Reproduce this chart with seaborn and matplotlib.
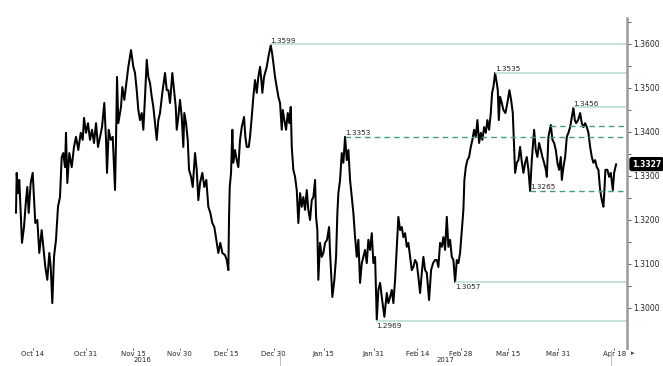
import matplotlib
matplotlib.use('Agg')
import matplotlib.pyplot as plt
import matplotlib.dates as mdates
import matplotlib.transforms as mtransforms
import seaborn as sns
import numpy as np
import pandas as pd

# time is kept as days after 14 Oct 2016
start = pd.Timestamp('2016-10-14')

day = [
    -5.44, -5.22, -4.80, -4.39, -3.94, -3.52, -2.88, -2.24, -1.82, -1.38,
    -0.74, -0.10, 0.32, 0.74, 1.38, 2.02, 2.78, 3.30, 3.94, 4.58,
    5.22, 5.67, 6.18, 6.72, 7.36, 8.00, 8.64, 9.19, 9.70, 10.24,
    10.56, 10.98, 11.62, 12.39, 13.12, 13.76, 14.50, 15.27, 15.91, 16.33,
    16.97, 17.61, 18.25, 18.89, 19.53, 20.17, 20.81, 21.45, 22.09, 22.82,
    23.37, 23.69, 24.23, 24.87, 25.51, 26.25, 26.57, 26.89, 27.30, 28.17,
    28.59, 29.23, 29.99, 30.51, 31.37, 32.11, 32.65, 33.19, 33.71, 34.25,
    34.80, 35.31, 35.85, 36.40, 36.91, 37.45, 38.00, 38.51, 39.05, 39.60,
    40.11, 40.65, 41.39, 42.25, 42.80, 43.31, 43.85, 44.59, 45.23, 45.68,
    46.00, 46.51, 47.05, 47.60, 48.11, 48.43, 48.98, 49.52, 49.94, 50.58,
    51.12, 51.86, 52.40, 52.91, 53.46, 54.19, 54.83, 55.47, 56.11, 56.75,
    57.39, 58.03, 58.67, 59.31, 59.95, 60.60, 61.46, 62.00, 62.52, 62.74,
    62.96, 63.38, 63.80, 64.12, 64.66, 65.20, 65.72, 66.26, 66.81, 67.54,
    67.96, 68.41, 69.05, 69.46, 70.01, 70.52, 71.06, 71.61, 72.12, 72.66,
    73.08, 73.40, 73.94, 74.81, 75.32, 76.09, 76.50, 76.92, 77.46, 78.01,
    78.52, 79.06, 79.61, 79.93, 80.44, 80.99, 81.53, 82.04, 82.49, 82.81,
    83.32, 83.87, 84.41, 84.92, 85.47, 86.01, 86.52, 87.07, 87.61, 88.12,
    88.67, 89.21, 89.72, 90.27, 90.59, 91.00, 91.32, 91.87, 92.41, 92.93,
    93.47, 94.11, 94.75, 95.07, 95.81, 96.45, 96.99, 97.41, 97.73, 98.27,
    98.82, 99.33, 99.87, 100.42, 100.93, 101.47, 102.02, 102.53, 103.07, 103.62,
    104.13, 104.67, 105.22, 105.73, 106.27, 106.82, 107.33, 107.87, 108.42, 108.93,
    109.48, 110.02, 110.53, 111.08, 111.62, 112.45, 113.22, 113.73, 114.28, 114.82,
    115.33, 115.88, 116.42, 116.93, 117.48, 118.02, 118.53, 119.08, 119.62, 120.13,
    120.68, 121.22, 121.73, 122.28, 122.82, 123.34, 123.88, 124.42, 124.94, 125.48,
    126.02, 126.76, 127.40, 128.04, 128.68, 129.23, 129.74, 130.28, 130.83, 131.34,
    131.88, 132.43, 132.94, 133.48, 134.03, 134.54, 135.08, 135.63, 136.14, 136.68,
    137.23, 137.74, 138.06, 138.51, 139.02, 139.56, 140.11, 140.62, 141.17, 141.71,
    142.22, 142.77, 143.31, 143.82, 144.37, 144.91, 145.42, 145.97, 146.51, 146.93,
    147.34, 147.89, 148.43, 148.75, 149.07, 149.49, 150.03, 150.54, 151.18, 151.82,
    152.47, 153.01, 153.55, 153.87, 154.29, 154.83, 155.35, 155.89, 156.43, 156.95,
    157.49, 158.03, 158.55, 159.09, 159.63, 160.37, 160.91, 161.43, 161.97, 162.52,
    163.03, 163.57, 164.12, 164.44, 164.95, 165.72, 166.23, 166.77, 167.32, 167.83,
    168.37, 168.92, 169.24, 169.75, 170.30, 170.84, 171.35, 171.90, 172.44, 172.95,
    173.40, 173.82, 174.46, 175.10, 175.64, 176.15, 176.70, 177.24, 177.75, 178.30,
    178.84, 179.35, 179.90, 180.44, 180.95, 181.50, 182.04, 182.55, 182.87, 183.19,
    183.83, 184.38, 184.92, 185.56, 185.98, 186.62,
]

price = [
    1.3216, 1.3307, 1.3261, 1.3291, 1.3216, 1.3148, 1.3184, 1.3245, 1.3275, 1.3216,
    1.3284, 1.3307, 1.3252, 1.3193, 1.3200, 1.3125, 1.3177, 1.3139, 1.3093, 1.3064,
    1.3125, 1.3093, 1.3011, 1.3116, 1.3155, 1.3230, 1.3252, 1.3343, 1.3352, 1.3320,
    1.3398, 1.3284, 1.3352, 1.3320, 1.3366, 1.3389, 1.3359, 1.3398, 1.3382, 1.3432,
    1.3398, 1.3420, 1.3382, 1.3405, 1.3375, 1.3420, 1.3366, 1.3389, 1.3411, 1.3466,
    1.3382, 1.3307, 1.3405, 1.3382, 1.3389, 1.3268, 1.3382, 1.3525, 1.3420, 1.3457,
    1.3502, 1.3473, 1.3518, 1.3548, 1.3586, 1.3548, 1.3534, 1.3495, 1.3450, 1.3427,
    1.3443, 1.3405, 1.3480, 1.3564, 1.3525, 1.3511, 1.3480, 1.3457, 1.3420, 1.3382,
    1.3427, 1.3443, 1.3489, 1.3534, 1.3495, 1.3495, 1.3466, 1.3534, 1.3489, 1.3457,
    1.3405, 1.3434, 1.3473, 1.3434, 1.3366, 1.3443, 1.3420, 1.3382, 1.3314, 1.3298,
    1.3275, 1.3352, 1.3314, 1.3245, 1.3284, 1.3307, 1.3275, 1.3291, 1.3230, 1.3216,
    1.3193, 1.3184, 1.3155, 1.3125, 1.3148, 1.3125, 1.3120, 1.3109, 1.3086, 1.3207,
    1.3275, 1.3307, 1.3405, 1.3330, 1.3359, 1.3336, 1.3320, 1.3382, 1.3411, 1.3434,
    1.3389, 1.3366, 1.3366, 1.3389, 1.3434, 1.3480, 1.3518, 1.3489, 1.3525, 1.3548,
    1.3518, 1.3489, 1.3525, 1.3548, 1.3570, 1.3597, 1.3580, 1.3557, 1.3525, 1.3502,
    1.3480, 1.3466, 1.3405, 1.3450, 1.3427, 1.3405, 1.3443, 1.3420, 1.3457, 1.3366,
    1.3314, 1.3298, 1.3268, 1.3193, 1.3261, 1.3230, 1.3252, 1.3223, 1.3268, 1.3223,
    1.3200, 1.3245, 1.3252, 1.3291, 1.3207, 1.3177, 1.3064, 1.3148, 1.3116, 1.3125,
    1.3148, 1.3155, 1.3184, 1.3125, 1.3025, 1.3064, 1.3116, 1.3216, 1.3261, 1.3291,
    1.3352, 1.3330, 1.3389, 1.3336, 1.3359, 1.3291, 1.3252, 1.3216, 1.3161, 1.3116,
    1.3155, 1.3057, 1.3102, 1.3116, 1.3132, 1.3102, 1.3155, 1.3132, 1.3170, 1.3102,
    1.3116, 1.2973, 1.3041, 1.3057, 1.3025, 1.2980, 1.3034, 1.3011, 1.3025, 1.3041,
    1.3011, 1.3064, 1.3139, 1.3207, 1.3177, 1.3184, 1.3161, 1.3170, 1.3139, 1.3148,
    1.3116, 1.3086, 1.3093, 1.3109, 1.3102, 1.3070, 1.3034, 1.3080, 1.3116, 1.3086,
    1.3080, 1.3018, 1.3086, 1.3102, 1.3109, 1.3109, 1.3093, 1.3148, 1.3139, 1.3161,
    1.3132, 1.3207, 1.3139, 1.3155, 1.3116, 1.3109, 1.3059, 1.3109, 1.3102, 1.3125,
    1.3177, 1.3223, 1.3291, 1.3320, 1.3336, 1.3343, 1.3366, 1.3382, 1.3405, 1.3389,
    1.3427, 1.3375, 1.3398, 1.3382, 1.3411, 1.3398, 1.3427, 1.3405, 1.3443, 1.3489,
    1.3502, 1.3534, 1.3511, 1.3495, 1.3427, 1.3480, 1.3466, 1.3450, 1.3443, 1.3466,
    1.3495, 1.3473, 1.3443, 1.3382, 1.3307, 1.3330, 1.3336, 1.3366, 1.3332, 1.3307,
    1.3330, 1.3343, 1.3314, 1.3266, 1.3336, 1.3405, 1.3359, 1.3343, 1.3375, 1.3359,
    1.3343, 1.3330, 1.3314, 1.3298, 1.3389, 1.3416, 1.3382, 1.3375, 1.3359, 1.3330,
    1.3314, 1.3343, 1.3291, 1.3320, 1.3343, 1.3389, 1.3398, 1.3411, 1.3434, 1.3455,
    1.3427, 1.3420, 1.3427, 1.3443, 1.3420, 1.3411, 1.3420, 1.3411, 1.3398, 1.3366,
    1.3343, 1.3330, 1.3336, 1.3320, 1.3314, 1.3268, 1.3245, 1.3230, 1.3268, 1.3314,
    1.3314, 1.3298, 1.3307, 1.3268, 1.3307, 1.3327,
]

# annotated levels: value drawn, label shown, day the line starts
level_price = [1.3599, 1.3535, 1.3456, 1.3389, 1.3414, 1.3266, 1.3058, 1.2970]
level_text = ['1.3599', '1.3535', '1.3456', '1.3353', '', '1.3265', '1.3057', '1.2969']
level_from = [75.9, 147.9, 172.9, 99.9, 165.5, 159.1, 135.1, 109.8]
level_dashed = [False, False, False, True, True, True, False, False]

tick_dates = ['2016-10-14', '2016-10-31', '2016-11-15', '2016-11-30', '2016-12-15',
              '2016-12-30', '2017-01-15', '2017-01-31', '2017-02-14', '2017-02-28',
              '2017-03-15', '2017-03-31', '2017-04-18']
tick_labels = ['Oct 14', 'Oct 31', 'Nov 15', 'Nov 30', 'Dec 15', 'Dec 30', 'Jan 15',
               'Jan 31', 'Feb 14', 'Feb 28', 'Mar 15', 'Mar 31', 'Apr 18']
years = ['2016', '2017']
year_label_at = ['2016-11-18', '2017-02-23']
y_ticks = [1.30, 1.31, 1.32, 1.33, 1.34, 1.35, 1.36]
last_price = 1.3327

sns.set_style('white')
plt.rcParams['font.family'] = ['DejaVu Sans']

fig = plt.figure(figsize=(6.63, 3.66), dpi=100)
ax = fig.add_axes([14 / 663, 18 / 366, 613 / 663, 330 / 366])

df = pd.DataFrame({'date': start + pd.to_timedelta(day, unit='D'), 'price': price})
sns.lineplot(data=df, x='date', y='price', ax=ax, color='black', lw=1.45)

x0 = start - pd.Timedelta(days=6.08)
x1 = start + pd.Timedelta(days=190.1)
ax.set_xlim(x0, x1)
ax.set_ylim(1.2909, 1.3659)
xmax = mdates.date2num(x1)

for p, txt, d, dashed in zip(level_price, level_text, level_from, level_dashed):
    xs = mdates.date2num(start + pd.Timedelta(days=d))
    if dashed:
        ax.hlines(p, xs, xmax, colors='#3fa07f', linestyles=(0, (4, 3)), lw=1.0)
    else:
        ax.hlines(p, xs, xmax, colors='#b2ddcc', lw=1.1)
    if txt:
        below = p < 1.31
        ax.text(xs, p - 0.0004 if below else p + 0.0001, txt, fontsize=5.2,
                ha='left', va='top' if below else 'bottom', color='#222222')

ax.set_xlabel('')
ax.set_ylabel('')
for s in ['left', 'top', 'bottom']:
    ax.spines[s].set_visible(False)
ax.spines['right'].set_color('#9a9a9a')
ax.spines['right'].set_linewidth(1.8)

ax.yaxis.tick_right()
ax.set_yticks(y_ticks)
ax.set_yticklabels([f'{v:.4f}' for v in y_ticks])
ax.set_yticks([v + 0.005 for v in y_ticks], minor=True)
ax.tick_params(axis='y', which='both', right=True, direction='out', length=3,
               width=0.6, color='#444444', labelsize=5.5, pad=1.5)

ax.set_xticks(pd.to_datetime(tick_dates))
ax.set_xticklabels(tick_labels)
ax.tick_params(axis='x', bottom=True, direction='out', length=1.5, width=0.6,
               color='#444444', labelsize=5, pad=0.5)

trans = mtransforms.blended_transform_factory(ax.transData, ax.transAxes)
for yr, at in zip(years, year_label_at):
    ax.text(pd.Timestamp(at), -0.036, yr, transform=trans, fontsize=5,
            ha='center', va='center')
for sep in ['2017-01-01', '2017-04-17']:
    ax.plot([pd.Timestamp(sep)] * 2, [-0.005, -0.05], transform=trans,
            color='#bbbbbb', lw=0.7, clip_on=False)

ytrans = mtransforms.blended_transform_factory(ax.transAxes, ax.transData)
ax.text(1.008, last_price, f'{last_price:.4f}', transform=ytrans, fontsize=5.5,
        color='white', fontweight='bold', ha='left', va='center',
        bbox=dict(boxstyle='round,pad=0.25', fc='black', ec='black'))
ax.text(1.006, -0.006, '\u25b8', transform=ax.transAxes, fontsize=5,
        ha='left', va='top', color='#444444')

fig.savefig('out.png', dpi=100)
